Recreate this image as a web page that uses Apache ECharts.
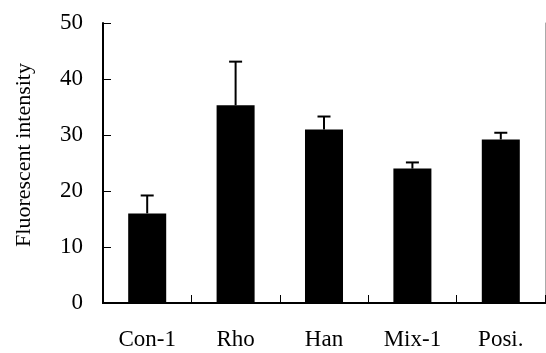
<!DOCTYPE html>
<html>
<head>
<meta charset="utf-8">
<script src="https://cdn.jsdelivr.net/npm/echarts@6/dist/echarts.min.js"></script>
<style>html,body{margin:0;padding:0;background:#fff;}#c{width:546px;height:353px;}</style>
</head>
<body>
<div id="c"></div>
<script>
var categories = ['Con-1', 'Rho', 'Han', 'Mix-1', 'Posi.'];
var means = [16.0, 35.3, 31.0, 24.0, 29.2];
var errors = [3.2, 7.8, 2.3, 1.1, 1.2];
var yTicks = [0, 10, 20, 30, 40, 50];
var yTitle = 'Fluorescent intensity';

var FONT = '"Liberation Serif", "Times New Roman", serif';
var chart = echarts.init(document.getElementById('c'), null, {renderer: 'canvas'});
var errData = means.map(function (m, i) { return [i, m, m + errors[i]]; });

chart.setOption({
  animation: false,
  backgroundColor: '#fff',
  grid: {left: 103, right: 1, top: 23, bottom: 50, containLabel: false},
  graphic: [{
    type: 'text',
    x: 24,
    y: 155,
    rotation: Math.PI / 2,
    style: {
      text: yTitle,
      fill: '#000',
      font: '22px ' + FONT,
      align: 'center',
      verticalAlign: 'middle'
    }
  }],
  xAxis: [{
    type: 'category',
    data: categories,
    position: 'bottom',
    axisLine: {show: true, lineStyle: {color: '#000', width: 2}},
    axisTick: {show: true, inside: true, length: 8, lineStyle: {color: '#000', width: 1}},
    axisLabel: {color: '#000', fontFamily: FONT, fontSize: 23, margin: 25},
    splitLine: {show: false}
  }, {
    type: 'category',
    data: categories,
    position: 'top',
    axisLine: {show: true, lineStyle: {color: '#000', width: 2}},
    axisTick: {show: false},
    axisLabel: {show: false}
  }],
  yAxis: [{
    type: 'value',
    min: yTicks[0],
    max: yTicks[yTicks.length - 1],
    interval: 10,
    position: 'left',
    axisLine: {show: true, lineStyle: {color: '#000', width: 2}},
    axisTick: {show: true, inside: true, length: 8, lineStyle: {color: '#000', width: 1}},
    axisLabel: {color: '#000', fontFamily: FONT, fontSize: 23, margin: 20},
    splitLine: {show: false}
  }, {
    type: 'value',
    min: yTicks[0],
    max: yTicks[yTicks.length - 1],
    interval: 10,
    position: 'right',
    axisLine: {show: true, lineStyle: {color: '#aaa', width: 1}},
    axisTick: {show: false},
    axisLabel: {show: false},
    splitLine: {show: false}
  }],
  series: [{
    type: 'bar',
    data: means,
    barWidth: '43%',
    itemStyle: {color: '#000'},
    z: 2
  }, {
    type: 'custom',
    data: errData,
    z: 3,
    renderItem: function (params, api) {
      var x = api.value(0);
      var top = api.coord([x, api.value(2)]);
      var base = api.coord([x, api.value(1)]);
      var half = 6.5;
      return {
        type: 'group',
        children: [{
          type: 'line',
          shape: {x1: top[0], y1: top[1], x2: base[0], y2: base[1]},
          style: {stroke: '#000', lineWidth: 2}
        }, {
          type: 'line',
          shape: {x1: top[0] - half, y1: top[1], x2: top[0] + half, y2: top[1]},
          style: {stroke: '#000', lineWidth: 2}
        }]
      };
    }
  }]
});
</script>
</body>
</html>
